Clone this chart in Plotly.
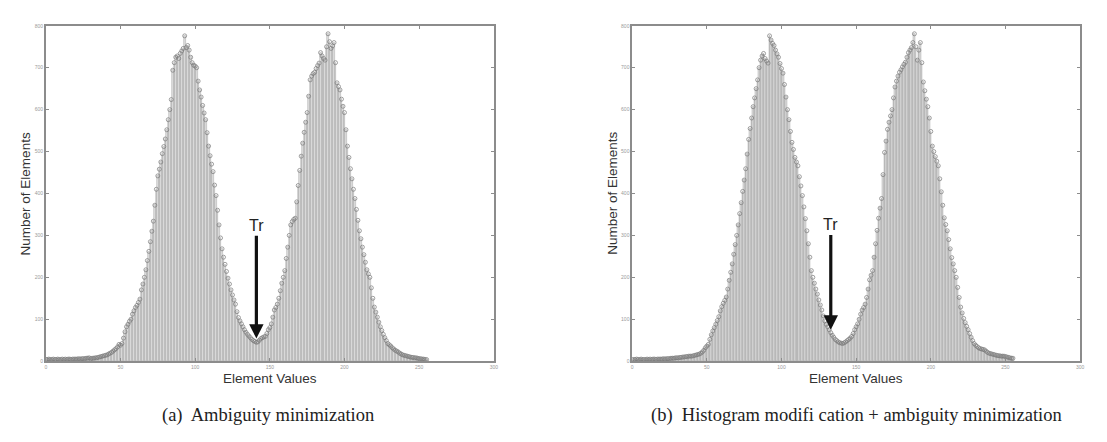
import plotly.graph_objects as go

# Element values (bin centres) 0..255
element_values = list(range(256))

# Panel (a): Ambiguity minimization - counts per element value
counts_a = [
    4, 4, 5, 4, 4, 5, 4, 4, 5, 4,
    4, 5, 4, 5, 4, 5, 5, 4, 5, 5,
    5, 5, 6, 5, 6, 6, 6, 7, 7, 8,
    6, 7, 7, 8, 8, 9, 10, 11, 12, 13,
    14, 15, 17, 19, 21, 24, 27, 30, 34, 40,
    38, 42, 55, 70, 82, 88, 95, 100, 112, 120,
    128, 133, 140, 148, 170, 184, 200, 218, 240, 262,
    285, 310, 334, 372, 410, 442, 458, 475, 495, 512,
    530, 552, 576, 600, 624, 694, 712, 725, 728, 722,
    734, 740, 746, 776, 748, 753, 742, 725, 712, 706,
    704, 700, 668, 647, 630, 610, 592, 576, 545, 513,
    490, 470, 452, 420, 395, 360, 325, 294, 268, 248,
    231, 214, 198, 184, 170, 158, 146, 136, 118, 104,
    96, 89, 82, 75, 69, 64, 60, 56, 52, 49,
    47, 45, 46, 50, 54, 56, 58, 59, 66, 75,
    80, 89, 105, 122, 128, 136, 150, 168, 186, 200,
    216, 245, 272, 300, 325, 333, 338, 341, 380, 419,
    455, 489, 520, 546, 570, 593, 632, 671, 680, 686,
    689, 698, 705, 711, 736, 728, 722, 718, 750, 781,
    762, 746, 752, 760, 712, 664, 655, 647, 625, 608,
    593, 552, 513, 486, 459, 435, 410, 388, 362, 336,
    311, 292, 272, 254, 236, 218, 208, 200, 175, 150,
    129, 117, 105, 93, 82, 73, 64, 56, 49, 42,
    39, 36, 32, 29, 26, 24, 22, 19, 17, 15,
    14, 13, 12, 11, 10, 9, 9, 8, 8, 7,
    6, 6, 5, 5, 4, 4,
]

# Panel (b): Histogram modification + ambiguity minimization
counts_b = [
    4, 4, 4, 5, 4, 4, 5, 4, 4, 4,
    5, 4, 5, 4, 5, 5, 4, 5, 5, 5,
    5, 6, 5, 6, 6, 6, 7, 7, 7, 8,
    8, 8, 9, 9, 10, 10, 11, 11, 12, 12,
    12, 13, 14, 15, 16, 17, 19, 22, 26, 32,
    36, 40, 52, 63, 72, 80, 88, 97, 106, 120,
    130, 138, 145, 153, 172, 193, 212, 232, 255, 278,
    300, 325, 352, 378, 405, 432, 459, 494, 529, 555,
    580, 607, 628, 650, 671, 700, 718, 728, 734, 722,
    716, 711, 776, 766, 758, 753, 742, 733, 725, 710,
    698, 687, 660, 630, 600, 576, 548, 522, 505, 486,
    475, 466, 440, 418, 395, 368, 340, 311, 280, 248,
    216, 200, 186, 172, 160, 146, 134, 122, 108, 96,
    88, 82, 75, 68, 62, 57, 52, 49, 46, 44,
    43, 42, 44, 46, 49, 52, 55, 59, 66, 75,
    82, 89, 100, 112, 122, 128, 136, 152, 172, 194,
    205, 216, 248, 280, 312, 341, 365, 388, 445, 498,
    525, 553, 570, 585, 600, 628, 654, 668, 680, 689,
    695, 702, 708, 713, 725, 736, 742, 748, 760, 781,
    750, 718, 742, 760, 712, 666, 645, 625, 607, 580,
    548, 513, 500, 488, 477, 466, 435, 404, 372, 342,
    326, 311, 290, 268, 247, 232, 216, 200, 176, 152,
    129, 115, 102, 92, 83, 75, 66, 57, 49, 42,
    38, 35, 32, 30, 29, 28, 27, 24, 21, 19,
    18, 17, 16, 15, 14, 13, 13, 12, 12, 12,
    11, 10, 9, 8, 7, 7,
]

x_ticks = [0, 50, 100, 150, 200, 250, 300]
y_ticks = [0, 100, 200, 300, 400, 500, 600, 700, 800]

threshold_a = 141
threshold_b = 133

captions = ["(a)  Ambiguity minimization",
            "(b)  Histogram modifi cation + ambiguity minimization"]

W, H = 1107, 442
dom_a = [37 / W, 487 / W]
dom_b = [626 / W, 1076 / W]
dom_y = [(H - 355) / H, (H - 15) / H]

fig = go.Figure()

panels = [
    (counts_a, "x", "y", threshold_a, 299, 54),
    (counts_b, "x2", "y2", threshold_b, 301, 75),
]

for counts, xa, ya, thr, ty, hy in panels:
    fig.add_trace(go.Bar(
        x=element_values, y=counts, xaxis=xa, yaxis=ya,
        marker=dict(color="#dedede", line=dict(color="#8a8a8a", width=0.35)),
        width=1.0, showlegend=False, hoverinfo="skip",
    ))
    fig.add_trace(go.Scatter(
        x=element_values, y=counts, xaxis=xa, yaxis=ya, mode="markers",
        marker=dict(symbol="circle-open", size=4, color="#7a7a7a",
                    line=dict(width=0.7, color="#7a7a7a")),
        showlegend=False, hoverinfo="skip",
    ))
    fig.add_annotation(
        x=thr, y=hy, xref=xa, yref=ya,
        ax=thr, ay=ty, axref=xa, ayref=ya,
        text="Tr", showarrow=True, arrowhead=2, arrowsize=0.9,
        arrowwidth=3.2, arrowcolor="#111111",
        font=dict(family="Liberation Sans, Arial", size=16, color="#222222"),
        yanchor="bottom",
    )

axis_common = dict(
    showline=True, linecolor="#8c8c8c", linewidth=1.5, mirror="ticks",
    ticks="inside", ticklen=3, tickcolor="#8c8c8c",
    showgrid=False, zeroline=False,
    tickfont=dict(family="Liberation Sans, Arial", size=5, color="#9a9a9a"),
)

fig.update_layout(
    width=W, height=H,
    margin=dict(l=0, r=0, t=0, b=0),
    paper_bgcolor="white", plot_bgcolor="white",
    bargap=0,
    xaxis=dict(domain=dom_a, anchor="y", range=[0, 300], tickvals=x_ticks, **axis_common),
    yaxis=dict(domain=dom_y, anchor="x", range=[0, 800], tickvals=y_ticks, **axis_common),
    xaxis2=dict(domain=dom_b, anchor="y2", range=[0, 300], tickvals=x_ticks, **axis_common),
    yaxis2=dict(domain=dom_y, anchor="x2", range=[0, 800], tickvals=y_ticks, **axis_common),
)

label_font = dict(family="Liberation Sans, Arial", size=13.5, color="#333333")
cap_font = dict(family="Liberation Serif, Times New Roman", size=18.5, color="#222222")

for dom in [dom_a, dom_b]:
    cx = (dom[0] + dom[1]) / 2
    fig.add_annotation(x=cx, y=(H - 373) / H, xref="paper", yref="paper",
                       text="Element Values", showarrow=False, font=label_font,
                       xanchor="center", yanchor="middle")
    fig.add_annotation(x=dom[0] - 20 / W, y=(dom_y[0] + dom_y[1]) / 2,
                       xref="paper", yref="paper", text="Number of Elements",
                       textangle=-90, showarrow=False, font=label_font,
                       xanchor="center", yanchor="middle")

fig.add_annotation(x=260 / W, y=(H - 410) / H, xref="paper", yref="paper",
                   text=captions[0], showarrow=False, font=cap_font,
                   xanchor="center", yanchor="middle")
fig.add_annotation(x=851 / W, y=(H - 410) / H, xref="paper", yref="paper",
                   text=captions[1], showarrow=False, font=cap_font,
                   xanchor="center", yanchor="middle")

fig.write_html("out.html")
